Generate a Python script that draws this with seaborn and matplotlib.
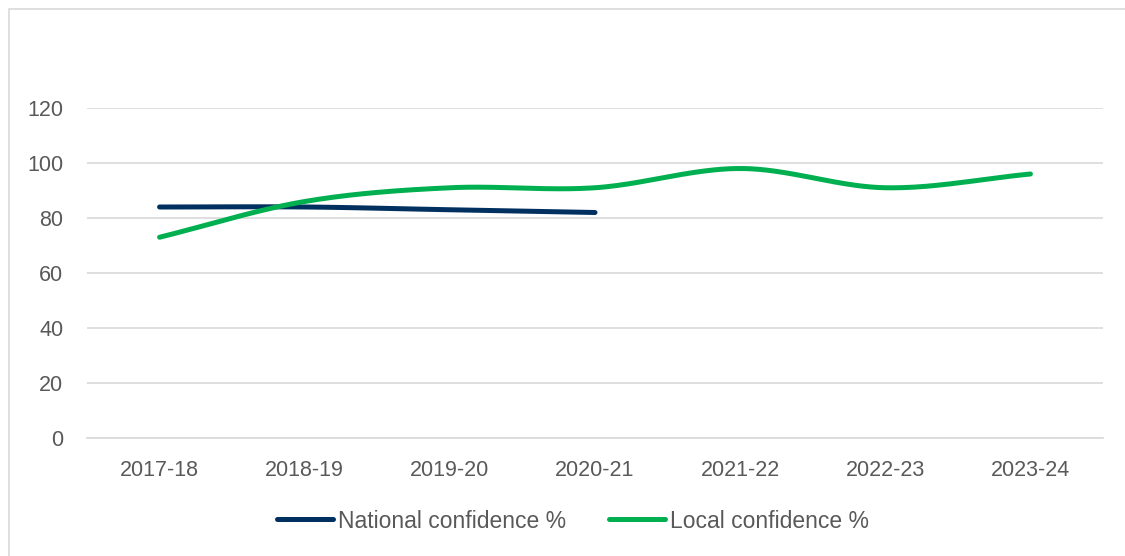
import numpy as np
import pandas as pd
import matplotlib
matplotlib.use("Agg")
import matplotlib.pyplot as plt
from matplotlib.patches import Rectangle
from matplotlib.lines import Line2D
import seaborn as sns

years = ["2017-18", "2018-19", "2019-20", "2020-21", "2021-22", "2022-23", "2023-24"]
national = [84, 84, 83, 82]
local = [73, 86, 91, 91, 98, 91, 96]

NAVY = "#00305F"
GREEN = "#00B050"
TEXT = "#595959"
GRID = "#D9D9D9"


def smooth(xs, ys, n=40):
    """Catmull-Rom style smoothing through the data points (like a spreadsheet 'smoothed line')."""
    xs = np.asarray(xs, float)
    ys = np.asarray(ys, float)
    k = len(xs)
    if k < 3:
        return xs, ys
    mx = np.empty(k)
    my = np.empty(k)
    for i in range(k):
        a = max(i - 1, 0)
        b = min(i + 1, k - 1)
        scale = 0.5 if 0 < i < k - 1 else 1.0
        mx[i] = (xs[b] - xs[a]) * scale
        my[i] = (ys[b] - ys[a]) * scale
    out_x, out_y = [], []
    t = np.linspace(0, 1, n, endpoint=False)
    h00 = 2 * t**3 - 3 * t**2 + 1
    h10 = t**3 - 2 * t**2 + t
    h01 = -2 * t**3 + 3 * t**2
    h11 = t**3 - t**2
    for i in range(k - 1):
        out_x.append(h00 * xs[i] + h10 * mx[i] + h01 * xs[i + 1] + h11 * mx[i + 1])
        out_y.append(h00 * ys[i] + h10 * my[i] + h01 * ys[i + 1] + h11 * my[i + 1])
    out_x.append([xs[-1]])
    out_y.append([ys[-1]])
    return np.concatenate(out_x), np.concatenate(out_y)


nx, ny = smooth(range(len(national)), national)
lx, ly = smooth(range(len(local)), local)
df = pd.concat([
    pd.DataFrame({"pos": nx, "value": ny, "series": "National confidence %"}),
    pd.DataFrame({"pos": lx, "value": ly, "series": "Local confidence %"}),
], ignore_index=True)

sns.set_theme(style="white")
plt.rcParams["font.family"] = ["Liberation Sans", "DejaVu Sans"]

fig = plt.figure(figsize=(11.25, 5.56), dpi=100)
ax = fig.add_axes([87 / 1125, 1 - 438 / 556, (1103 - 87) / 1125, (438 - 108) / 556])

sns.lineplot(
    data=df, x="pos", y="value", hue="series", sort=False,
    palette={"National confidence %": NAVY, "Local confidence %": GREEN},
    linewidth=3.6, legend=False, ax=ax,
)
for line in ax.get_lines():
    line.set_solid_capstyle("round")
    line.set_solid_joinstyle("round")

ax.set_xlim(-0.5, len(years) - 0.5)
ax.set_ylim(0, 120)
ax.set_yticks(range(0, 121, 20))
ax.set_xticks(range(len(years)))
ax.set_xticklabels(years)
ax.set_xlabel("")
ax.set_ylabel("")
ax.grid(axis="y", color=GRID, linewidth=1.2)
ax.set_axisbelow(True)
for side in ["top", "right", "left"]:
    ax.spines[side].set_visible(False)
ax.spines["bottom"].set_color(GRID)
ax.spines["bottom"].set_linewidth(1.2)
ax.tick_params(axis="both", length=0, labelsize=15.5, labelcolor=TEXT)
ax.tick_params(axis="y", pad=17)
ax.tick_params(axis="x", pad=16)

handles = [
    Line2D([], [], color=NAVY, linewidth=3.6, solid_capstyle="round"),
    Line2D([], [], color=GREEN, linewidth=3.6, solid_capstyle="round"),
]
leg = fig.legend(
    handles, ["National confidence %", "Local confidence %"],
    loc="center", bbox_to_anchor=(573 / 1125, 1 - 521 / 556), ncol=2,
    frameon=False, fontsize=16.5, handlelength=2.45, handletextpad=0.2,
    columnspacing=1.9,
)
for t in leg.get_texts():
    t.set_color(TEXT)

fig.patches.append(Rectangle((9 / 1125, -0.05), 1.2, 1 - 9 / 556 + 0.05,
                             transform=fig.transFigure, fill=False,
                             edgecolor=GRID, linewidth=1.2))

fig.savefig("out.png", dpi=100, facecolor="white")
